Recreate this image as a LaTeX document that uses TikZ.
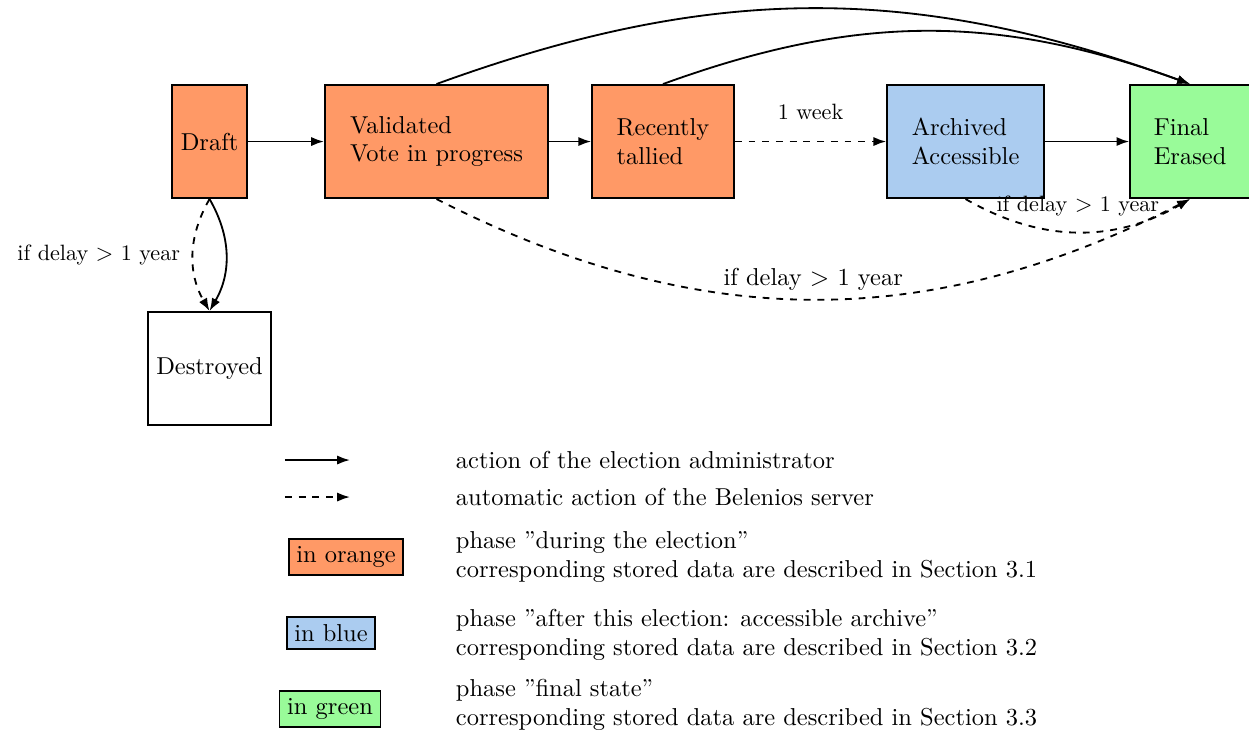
\documentclass[tikz,border=0pt]{standalone}
\usetikzlibrary{arrows.meta,positioning}
\definecolor{phaseorange}{RGB}{255,153,102}
\definecolor{phaseblue}{RGB}{171,204,240}
\definecolor{phasegreen}{RGB}{153,251,153}

\begin{document}
\begin{tikzpicture}[x=1cm,y=1cm,>={Latex[length=5.6pt,width=4pt]},thick,
  font=\fontsize{10.7}{12.6}\selectfont,
  state/.style={draw,align=left,minimum height=1.74cm},
  lbl/.style={font=\fontsize{9.7}{11.6}\selectfont},
  legbox/.style={draw}]
\useasboundingbox (0,0) rectangle (19.2,11.284);

% states of an election
\node[state,fill=phaseorange,minimum width=1.15cm] (draft) at (3.221,9.108) {Draft};
\node[state,fill=phaseorange,minimum width=3.43cm] (valid) at (6.710,9.108) {Validated\\Vote in progress};
\node[state,fill=phaseorange,minimum width=2.18cm] (tallied) at (10.192,9.108) {Recently\\tallied};
\node[state,fill=phaseblue,minimum width=2.41cm] (archived) at (14.843,9.108) {Archived\\Accessible};
\node[state,fill=phasegreen,minimum width=1.84cm] (final) at (18.294,9.108) {Final\\Erased};
\node[state,minimum width=1.89cm] (destroyed) at (3.221,5.619) {Destroyed};

\draw[->] (draft) -- (valid);
\draw[->] (valid) -- (tallied);
\draw[->,dashed] (tallied) -- node[above=6pt,lbl] (week) {1 week} (archived);
\draw[->] (archived) -- (final);
\draw[->] (valid.north) to[bend left=20] (final.north);
\draw[->] (tallied.north) to[bend left=20] (final.north);
\draw[->] (draft.south) to[bend left] (destroyed.north);
\draw[->,dashed] (draft.south) to[bend right] node[left=2pt,lbl] (delaya) {if delay $>$ 1 year} (destroyed.north);
\draw[->,dashed] (valid.south) to[bend right=27] node[above] (delayb) {if delay $>$ 1 year} (final.south);
\draw[->,dashed] (archived.south) to[bend right] node[above=3pt,lbl] (delayc) {if delay $>$ 1 year} (final.south);

% legend
\coordinate (adminA) at (4.381,4.212);
\coordinate (adminB) at (5.380,4.212);
\coordinate (serverA) at (4.381,3.643);
\coordinate (serverB) at (5.380,3.643);
\draw[->] (adminA) -- (adminB);
\draw[->,dashed] (serverA) -- (serverB);
\node[anchor=west,inner sep=0] (admintxt) at (6.995,4.212) {action of the election administrator};
\node[anchor=west,inner sep=0] (servertxt) at (6.995,3.643) {automatic action of the Belenios server};
\foreach \n/\c/\x/\y/\ty/\t/\d in {orange/phaseorange/5.319/2.721/2.721/{in orange}/{phase ''during the election''\\corresponding stored data are described in Section 3.1},
  blue/phaseblue/5.088/1.553/1.522/{in blue}/{phase ''after this election: accessible archive''\\corresponding stored data are described in Section 3.2},
  green/phasegreen/5.073/0.384/0.446/{in green}/{phase ''final state''\\corresponding stored data are described in Section 3.3}}{
  \node[legbox,fill=\c] (leg\n) at (\x,\y) {\t};
  \node[anchor=west,align=left,inner sep=0] (txt\n) at (6.995,\ty) {\d};
}
\end{tikzpicture}
\end{document}
